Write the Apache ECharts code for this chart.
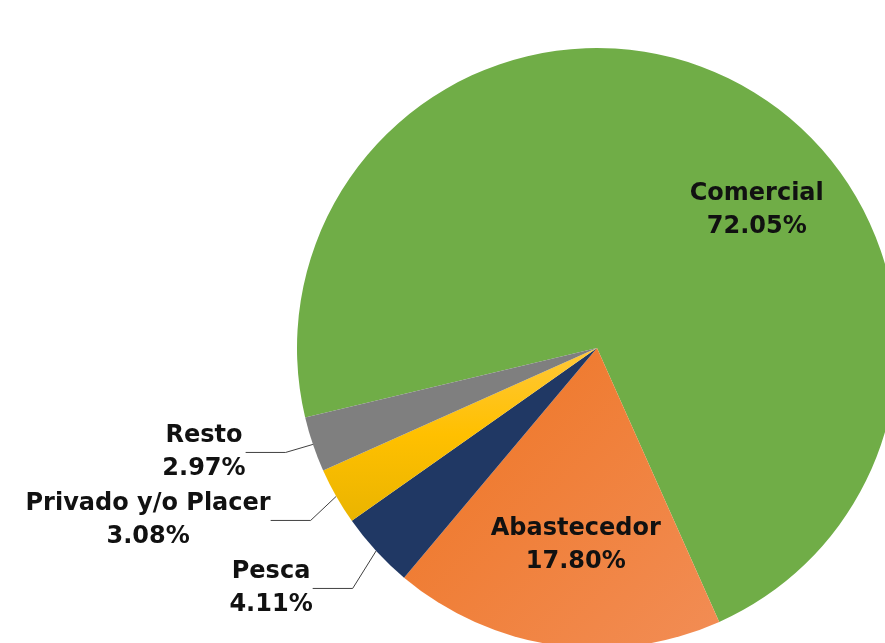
<!DOCTYPE html>
<html>
<head>
<meta charset="utf-8">
<script src="https://cdn.jsdelivr.net/npm/echarts@6/dist/echarts.min.js"></script>
<style>
  html, body { margin: 0; padding: 0; background: #ffffff; }
  #chart { width: 885px; height: 643px; }
</style>
</head>
<body>
<div id="chart"></div>
<script>
// Participación por tipo de embarcación (%)
const categories = ['Comercial', 'Abastecedor', 'Pesca', 'Privado y/o Placer', 'Resto'];
const shares = [72.05, 17.80, 4.11, 3.08, 2.97];

const fills = [
  '#70AD47',
  new echarts.graphic.LinearGradient(0, 0, 1, 1, [
    { offset: 0, color: '#EE7422' },
    { offset: 1, color: '#F28D55' }
  ]),
  '#203864',
  new echarts.graphic.LinearGradient(0, 0, 0, 1, [
    { offset: 0, color: '#FFC83A' },
    { offset: 0.5, color: '#FFC000' },
    { offset: 1, color: '#EAB400' }
  ]),
  '#7F7F7F'
];

// Large slices carry their label inside; small ones use a leader line.
const insideOffsets = { 'Comercial': [92, -1], 'Abastecedor': [0, 46] };

const labelFont = {
  fontFamily: 'DejaVu Sans',
  fontWeight: 'bold',
  fontSize: 24,
  lineHeight: 33,
  color: '#111111'
};

const pieData = categories.map(function (name, i) {
  const item = {
    name: name,
    value: shares[i],
    itemStyle: { color: fills[i] }
  };
  if (insideOffsets[name]) {
    item.label = Object.assign({ position: 'inside', offset: insideOffsets[name] }, labelFont);
    item.labelLine = { show: false };
  }
  return item;
});

const chart = echarts.init(document.getElementById('chart'), null, { renderer: 'canvas' });
chart.setOption({
  backgroundColor: '#ffffff',
  animation: false,
  series: [{
    type: 'pie',
    center: [597, 348],
    radius: 300,
    startAngle: 193.4,
    clockwise: true,
    avoidLabelOverlap: true,
    itemStyle: { borderWidth: 0 },
    label: Object.assign({
      show: true,
      position: 'outside',
      formatter: function (p) { return p.name + '\n' + p.value.toFixed(2) + '%'; }
    }, labelFont),
    labelLine: {
      show: true,
      length: 25,
      length2: 40,
      lineStyle: { color: '#404040', width: 1 }
    },
    // keep outside label blocks where they are, but centre their lines
    labelLayout: function (p) {
      if (insideOffsets[categories[p.dataIndex]]) return {};
      return {
        x: p.labelRect.x + p.labelRect.width / 2,
        align: 'center'
      };
    },
    data: pieData
  }]
});
</script>
</body>
</html>
